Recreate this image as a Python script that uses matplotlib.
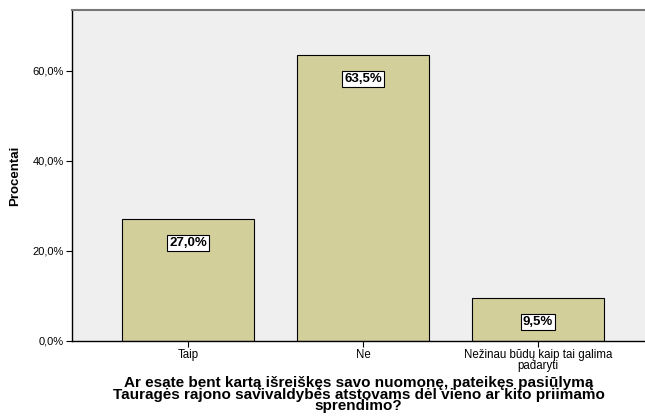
import matplotlib
matplotlib.use("Agg")
import matplotlib.pyplot as plt

plt.rcParams['font.family'] = ['Liberation Sans', 'DejaVu Sans']

# Data
categories = ["Taip", "Ne", "Nežinau būdų kaip tai galima\npadaryti"]
percents = [27.0, 63.5, 9.5]
value_labels = ["27,0%", "63,5%", "9,5%"]
y_ticks = [0, 20, 40, 60]
y_tick_labels = ["0,0%", "20,0%", "40,0%", "60,0%"]
title = ("Ar esate bent kartą išreiškęs savo nuomonę, pateikęs pasiūlymą\n"
         "Tauragės rajono savivaldybės atstovams dėl vieno ar kito priimamo\n"
         "sprendimo?")

W, H = 645, 416
fig = plt.figure(figsize=(W / 100, H / 100), dpi=100)
ax = fig.add_axes([72 / W, 1 - 341 / H, (W - 72) / W, (341 - 10) / H])

ax.set_facecolor("#efefef")
x = range(len(categories))
ax.bar(x, percents, width=0.75, color="#d3cf9b", edgecolor="black", linewidth=0.8)

for xi, v, lab in zip(x, percents, value_labels):
    ax.annotate(lab, (xi, v), xytext=(0, -17), textcoords="offset points",
                ha="center", va="center", fontsize=9.5, fontweight="bold",
                bbox=dict(boxstyle="square,pad=0.15", fc="white", ec="black", lw=0.8))

ax.set_xlim(-0.663, 2.611)
ax.set_ylim(0, 73.5)
ax.set_yticks(y_ticks)
ax.set_yticklabels(y_tick_labels, fontsize=8)
ax.set_xticks(list(x))
ax.set_xticklabels(categories, fontsize=8.3, linespacing=0.85)
ax.tick_params(axis="both", length=4, width=0.8, color="black", pad=2)

ax.spines["right"].set_visible(False)
ax.spines["top"].set_color("#777777")
ax.spines["top"].set_linewidth(1.5)
ax.spines["left"].set_linewidth(1)
ax.spines["bottom"].set_linewidth(1)

ax.set_ylabel("Procentai", fontsize=9.5, fontweight="bold", labelpad=8)
ax.set_xlabel(title, fontsize=11, fontweight="bold", linespacing=0.76, labelpad=3)

fig.savefig("out.png", dpi=100)
